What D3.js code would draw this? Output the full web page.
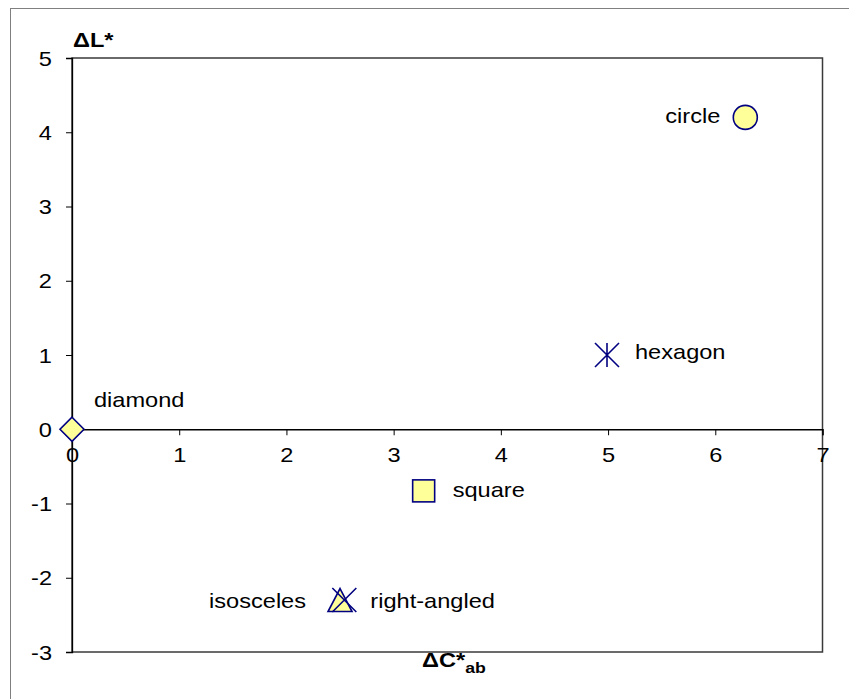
<!DOCTYPE html>
<html>
<head>
<meta charset="utf-8">
<script src="https://cdn.jsdelivr.net/npm/d3@7"></script>
<style>
  body { margin: 0; background: #fff; }
  svg { display: block; }
  text { font-family: Arial, "Liberation Sans", sans-serif; }
</style>
</head>
<body>
<svg id="chart" width="849" height="699"></svg>
<script>
// ---- data ----
const shapes  = ["circle", "hexagon", "diamond", "square", "isosceles", "right-angled"];
const deltaC  = [6.28, 4.99, 0, 3.28, 2.5, 2.54];
const deltaL  = [4.2, 1.0, 0, -0.83, -2.3, -2.3];
const markers = ["circle", "asterisk", "diamond", "square", "triangle", "x"];
const xTicks  = [0, 1, 2, 3, 4, 5, 6, 7];
const yTicks  = [-3, -2, -1, 0, 1, 2, 3, 4, 5];

// ---- layout / style ----
const SX = 1.18;               // horizontal text stretch
const FILL = "#FFFF99", STROKE = "#000080";
const labelOffsets = {
  "circle":       { dx: -25, dy: 6, anchor: "end" },
  "hexagon":      { dx: 28,  dy: 4, anchor: "start" },
  "diamond":      { dx: 22,  dy: -22, anchor: "start" },
  "square":       { dx: 29,  dy: 6, anchor: "start" },
  "isosceles":    { dx: -34, dy: 8, anchor: "end" },
  "right-angled": { dx: 26,  dy: 8, anchor: "start" }
};

const svg = d3.select("#chart");
const x = d3.scaleLinear().domain([0, 7]).range([72, 822.5]);
const y = d3.scaleLinear().domain([-3, 5]).range([652, 58]);
const fmt = d => String(d);

// outer chart border
svg.append("rect").attr("x", 10.5).attr("y", 8.5).attr("width", 900).attr("height", 800)
  .attr("fill", "none").attr("stroke", "#808080").attr("stroke-width", 1);

// plot area border
svg.append("rect").attr("x", x(0)).attr("y", y(5)).attr("width", x(7) - x(0)).attr("height", y(-3) - y(5))
  .attr("fill", "none").attr("stroke", "#3a3a3a").attr("stroke-width", 1.5);

function stretchText(sel, anchor) {
  sel.each(function () {
    const t = d3.select(this);
    const tx = +t.attr("x") || 0;
    const ty = +t.attr("y") || 0;
    t.attr("x", 0).attr("y", 0)
     .attr("transform", `translate(${tx},${ty}) scale(${SX},1)`)
     .attr("text-anchor", anchor);
  });
}

// y axis
const gy = svg.append("g").attr("transform", `translate(${x(0)},0)`)
  .call(d3.axisLeft(y).tickValues(yTicks).tickFormat(fmt).tickSize(6).tickPadding(14));
gy.select(".domain").attr("stroke", "#000").attr("stroke-width", 1.3);
gy.selectAll(".tick line").attr("stroke", "#000").attr("stroke-width", 1);
gy.selectAll(".tick text").attr("font-size", 20).attr("font-family", "Arial, 'Liberation Sans', sans-serif")
  .attr("fill", "#000").attr("dy", "0.36em");
stretchText(gy.selectAll(".tick text"), "end");

// x axis at y = 0
const gx = svg.append("g").attr("transform", `translate(0,${y(0)})`)
  .call(d3.axisBottom(x).tickValues(xTicks).tickFormat(fmt).tickSize(6).tickPadding(13));
gx.select(".domain").attr("stroke", "#000").attr("stroke-width", 1.3);
gx.selectAll(".tick line").attr("stroke", "#000").attr("stroke-width", 1);
gx.selectAll(".tick text").attr("font-size", 20).attr("font-family", "Arial, 'Liberation Sans', sans-serif")
  .attr("fill", "#000");
stretchText(gx.selectAll(".tick text"), "middle");

// axis titles
const yt = svg.append("text").attr("transform", `translate(73,47) scale(${SX},1)`)
  .attr("font-size", 20).attr("font-weight", "bold");
yt.append("tspan").text("ΔL*");

const xt = svg.append("text").attr("transform", `translate(422,667) scale(${SX},1)`)
  .attr("font-size", 20).attr("font-weight", "bold");
xt.append("tspan").text("ΔC*");
xt.append("tspan").attr("font-size", 15).attr("dy", 6).text("ab");

// markers
const pts = shapes.map((s, i) => ({ name: s, cx: deltaC[i], cy: deltaL[i], m: markers[i] }));
const gm = svg.append("g");
pts.forEach(p => {
  const px = x(p.cx), py = y(p.cy);
  const g = gm.append("g").attr("transform", `translate(${px},${py})`);
  if (p.m === "circle") {
    g.append("circle").attr("r", 12).attr("fill", FILL).attr("stroke", STROKE).attr("stroke-width", 1.6);
  } else if (p.m === "diamond") {
    g.append("path").attr("d", "M0,-12L12,0L0,12L-12,0Z").attr("fill", FILL).attr("stroke", STROKE).attr("stroke-width", 1.6);
  } else if (p.m === "square") {
    g.append("rect").attr("x", -11).attr("y", -11).attr("width", 22).attr("height", 22)
      .attr("fill", FILL).attr("stroke", STROKE).attr("stroke-width", 1.6);
  } else if (p.m === "triangle") {
    g.append("path").attr("d", "M0,-11.5L12,11.5L-12,11.5Z").attr("fill", FILL).attr("stroke", STROKE).attr("stroke-width", 1.6);
  } else if (p.m === "asterisk") {
    g.append("path").attr("d", "M0,-12L0,12M-12,-12L12,12M12,-12L-12,12")
      .attr("fill", "none").attr("stroke", STROKE).attr("stroke-width", 1.6);
  } else if (p.m === "x") {
    g.append("path").attr("d", "M-12,-12L12,12M12,-12L-12,12")
      .attr("fill", "none").attr("stroke", STROKE).attr("stroke-width", 1.6);
  }
});

// labels
pts.forEach(p => {
  const o = labelOffsets[p.name];
  svg.append("text")
    .attr("transform", `translate(${x(p.cx) + o.dx},${y(p.cy) + o.dy}) scale(${SX},1)`)
    .attr("text-anchor", o.anchor)
    .attr("font-size", 20).attr("fill", "#000")
    .text(p.name);
});
</script>
</body>
</html>
